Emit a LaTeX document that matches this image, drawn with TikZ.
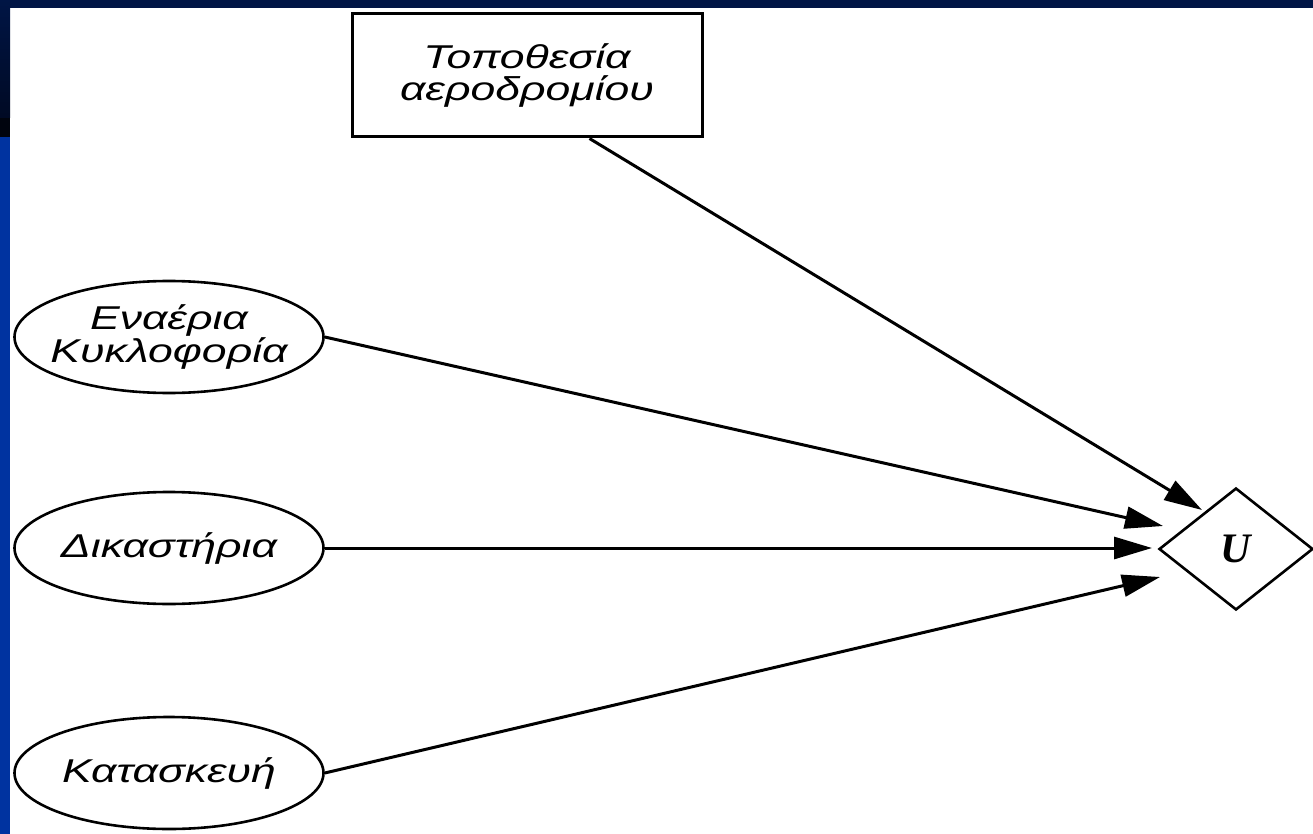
\documentclass[tikz,border=0pt]{standalone}
\usepackage{fontspec}
\setmainfont{Liberation Sans}[FakeStretch=1.35]
\newfontfamily\serifU{Liberation Serif}
\usetikzlibrary{shapes.geometric,arrows.meta}
\definecolor{navy}{HTML}{001545}
\definecolor{darknavy}{HTML}{000A24}
\definecolor{stripblue}{HTML}{0033A0}
\tikzset{
  lbl/.style={font=\itshape\fontsize{33}{31.5}\selectfont, align=center, text=black},
  chance/.style={ellipse, draw=black, line width=2.6pt, minimum width=309pt, minimum height=112pt, inner xsep=-80pt, inner ysep=0pt, lbl},
  decisionbox/.style={rectangle, draw=black, line width=3pt, minimum width=350pt, minimum height=123pt, inner sep=0pt, lbl},
  utility/.style={diamond, draw=black, line width=2.6pt, minimum width=154pt, minimum height=122pt, inner sep=0pt, font=\serifU\bfseries\itshape\fontsize{42}{42}\selectfont},
  conn/.style={line width=3pt, -{Triangle[length=38pt,width=22pt]}}
}
\begin{document}
\begin{tikzpicture}[x=1pt,y=-1pt]
\useasboundingbox (0,0) rectangle (1313,834);
\fill[white] (0,0) rectangle (1313,834);
\fill[navy] (0,0) rectangle (1313,8);
\shade[top color=navy, bottom color=darknavy] (0,0) rectangle (10,118);
\fill[black!80!navy] (0,118) rectangle (10,137);
\fill[stripblue] (0,137) rectangle (10,834);

\node[decisionbox] (box) at (527,75.5) {Τοποθεσία\\αεροδρομίου};
\node[chance] (e1) at (169,337) {Εναέρια\\Κυκλοφορία};
\node[chance] (e2) at (169,548) {Δικαστήρια};
\node[chance] (e3) at (169,773) {Κατασκευή};
\node[utility] (u) at (1236,549) {U};

\coordinate (t0) at (1202,510);
\coordinate (t1) at (1163,526);
\coordinate (t2) at (1152,548);
\coordinate (t3) at (1160,577);

\draw[conn] ([xshift=-114pt]box.south east) -- (t0);
\draw[conn] (e1.east) -- (t1);
\draw[conn] (e2.east) -- (t2);
\draw[conn] (e3.east) -- (t3);
\end{tikzpicture}
\end{document}
